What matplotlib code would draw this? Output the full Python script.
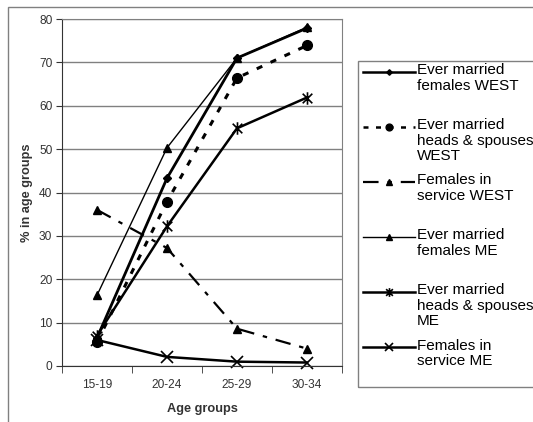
import matplotlib
matplotlib.use("Agg")
import matplotlib.pyplot as plt
from matplotlib.lines import Line2D
from matplotlib.patches import Rectangle
from matplotlib.path import Path

plt.rcParams['font.family'] = ['Liberation Sans', 'DejaVu Sans']

age_groups = ["15-19", "20-24", "25-29", "30-34"]

married_west = [6.5, 43.3, 71.0, 77.9]
heads_west = [5.5, 37.9, 66.4, 73.9]
service_west = [36.0, 27.2, 8.6, 4.0]
married_me = [16.3, 50.3, 71.0, 78.1]
heads_me = [7.0, 32.2, 54.8, 61.9]
service_me = [6.0, 2.1, 1.0, 0.8]

labels = [
    "Ever married\nfemales WEST",
    "Ever married\nheads & spouses\nWEST",
    "Females in\nservice WEST",
    "Ever married\nfemales ME",
    "Ever married\nheads & spouses\nME",
    "Females in\nservice ME",
]

# x with a vertical bar, like the spreadsheet "star" marker
star = Path([(-1, -1), (1, 1), (-1, 1), (1, -1), (0, -1.3), (0, 1.3)],
            [Path.MOVETO, Path.LINETO, Path.MOVETO, Path.LINETO, Path.MOVETO, Path.LINETO])

styles = [
    dict(ls='-', lw=2.0, marker='D', ms=4),
    dict(ls=(0, (2, 3)), lw=2.2, marker='o', ms=7),
    dict(ls=(0, (7, 4, 2, 4)), lw=1.6, marker='^', ms=6),
    dict(ls='-', lw=1.0, marker='^', ms=6),
    dict(ls='-', lw=1.8, marker=star, ms=9, mew=1.2),
    dict(ls='-', lw=1.8, marker='x', ms=9, mew=1.2),
]
series = [married_west, heads_west, service_west, married_me, heads_me, service_me]

fig = plt.figure(figsize=(5.33, 4.22), dpi=100)
W, H = 533, 422

# outer chart frame
fig.patches.append(Rectangle((8 / W, -0.1), 1.2, 1 - 7 / H + 0.1, transform=fig.transFigure,
                             fill=False, ec='#808080', lw=1.0))

ax = fig.add_axes([62 / W, 1 - 366 / H, 280 / W, 347 / H])
x = range(len(age_groups))
for vals, st in zip(series, styles):
    ax.plot(x, vals, color='black', mec='black', mfc='black', clip_on=False, **st)

ax.set_xlim(-0.5, 3.5)
ax.set_ylim(0, 80)
ax.set_yticks(range(0, 81, 10))
ax.set_xticks(list(x))
ax.set_xticklabels(age_groups)
ax.set_xticks([-0.5, 0.5, 1.5, 2.5, 3.5], minor=True)
ax.tick_params(axis='x', which='major', length=0, pad=9, labelsize=8.6, colors='#333333')
ax.tick_params(axis='x', which='minor', length=5, direction='out', color='#333333')
ax.tick_params(axis='y', length=4, direction='out', pad=3, labelsize=8.6, colors='#333333')
ax.yaxis.grid(True, color='#808080', lw=1.0)
ax.set_axisbelow(True)
for s in ['top', 'right']:
    ax.spines[s].set_color('#808080')
ax.spines['left'].set_color('#333333')
ax.spines['bottom'].set_color('#333333')

ax.set_xlabel("Age groups", fontsize=9.2, fontweight='bold', color='#333333', labelpad=9)
ax.set_ylabel("% in age groups", fontsize=9.2, fontweight='bold', color='#333333', labelpad=4)

# legend panel
fig.patches.append(Rectangle((358 / W, 1 - 387 / H), 1.0, 326 / H, transform=fig.transFigure,
                             fill=False, ec='#808080', lw=1.0))
for i, (lab, st) in enumerate(zip(labels, styles)):
    yy = 1 - (72 + 55 * i) / H
    fig.add_artist(Line2D([363 / W, 415 / W], [yy, yy], transform=fig.transFigure, color='black',
                          ls=st['ls'], lw=min(st['lw'], 1.8), marker=None))
    fig.add_artist(Line2D([389 / W], [yy], transform=fig.transFigure, color='black',
                          marker=st['marker'], ms=st['ms'] * 0.7, mfc='black', mec='black',
                          mew=st.get('mew', 1.0), ls='none'))
    fig.text(417 / W, yy + 8.5 / H, lab, fontsize=11, va='top', ha='left',
             linespacing=1.1, color='black')

fig.savefig("out.png", dpi=100)
